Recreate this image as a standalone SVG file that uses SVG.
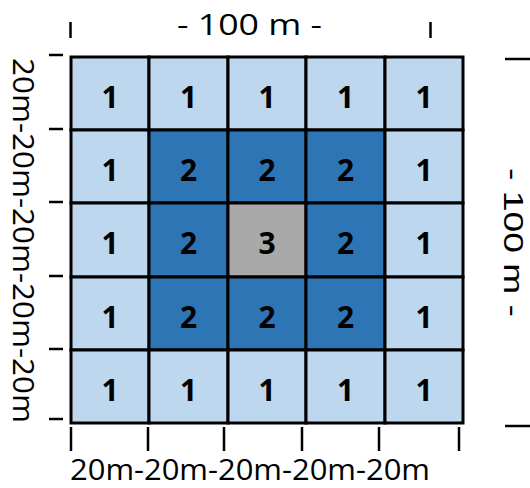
<svg xmlns="http://www.w3.org/2000/svg" width="530" height="488" viewBox="0 0 530 488">
<style>
.c1{fill:#BDD7EE}.c2{fill:#2E75B6}.c3{fill:#A9A9A9}
.cell rect{stroke:#000;stroke-width:3}
.n{font-family:"Open Sans","Liberation Sans",Arial,sans-serif;font-weight:bold;font-size:30px;text-anchor:middle;fill:#000}
.lab{font-family:"Open Sans","Liberation Sans",sans-serif;font-size:29px;fill:#000}
.tk{stroke:#000;stroke-width:2.5;fill:none}
</style>
<rect width="530" height="488" fill="#fff"/>
<g id="grid">
<g id="r1c1" class="cell"><rect class="c1" x="71" y="57" width="78" height="73"/><text class="n" x="110" y="108">1</text></g>
<g id="r1c2" class="cell"><rect class="c1" x="149" y="57" width="79" height="73"/><text class="n" x="188.5" y="108">1</text></g>
<g id="r1c3" class="cell"><rect class="c1" x="228" y="57" width="78" height="73"/><text class="n" x="267" y="108">1</text></g>
<g id="r1c4" class="cell"><rect class="c1" x="306" y="57" width="79" height="73"/><text class="n" x="345.5" y="108">1</text></g>
<g id="r1c5" class="cell"><rect class="c1" x="385" y="57" width="78" height="73"/><text class="n" x="424" y="108">1</text></g>

<g id="r2c1" class="cell"><rect class="c1" x="71" y="130" width="78" height="73"/><text class="n" x="110" y="181">1</text></g>
<g id="r2c2" class="cell"><rect class="c2" x="149" y="130" width="79" height="73"/><text class="n" x="188.5" y="181">2</text></g>
<g id="r2c3" class="cell"><rect class="c2" x="228" y="130" width="78" height="73"/><text class="n" x="267" y="181">2</text></g>
<g id="r2c4" class="cell"><rect class="c2" x="306" y="130" width="79" height="73"/><text class="n" x="345.5" y="181">2</text></g>
<g id="r2c5" class="cell"><rect class="c1" x="385" y="130" width="78" height="73"/><text class="n" x="424" y="181">1</text></g>

<g id="r3c1" class="cell"><rect class="c1" x="71" y="203" width="78" height="74"/><text class="n" x="110" y="254">1</text></g>
<g id="r3c2" class="cell"><rect class="c2" x="149" y="203" width="79" height="74"/><text class="n" x="188.5" y="254">2</text></g>
<g id="r3c3" class="cell"><rect class="c3" x="228" y="203" width="78" height="74"/><text class="n" x="267" y="254">3</text></g>
<g id="r3c4" class="cell"><rect class="c2" x="306" y="203" width="79" height="74"/><text class="n" x="345.5" y="254">2</text></g>
<g id="r3c5" class="cell"><rect class="c1" x="385" y="203" width="78" height="74"/><text class="n" x="424" y="254">1</text></g>

<g id="r4c1" class="cell"><rect class="c1" x="71" y="277" width="78" height="73"/><text class="n" x="110" y="328">1</text></g>
<g id="r4c2" class="cell"><rect class="c2" x="149" y="277" width="79" height="73"/><text class="n" x="188.5" y="328">2</text></g>
<g id="r4c3" class="cell"><rect class="c2" x="228" y="277" width="78" height="73"/><text class="n" x="267" y="328">2</text></g>
<g id="r4c4" class="cell"><rect class="c2" x="306" y="277" width="79" height="73"/><text class="n" x="345.5" y="328">2</text></g>
<g id="r4c5" class="cell"><rect class="c1" x="385" y="277" width="78" height="73"/><text class="n" x="424" y="328">1</text></g>

<g id="r5c1" class="cell"><rect class="c1" x="71" y="350" width="78" height="73"/><text class="n" x="110" y="401">1</text></g>
<g id="r5c2" class="cell"><rect class="c1" x="149" y="350" width="79" height="73"/><text class="n" x="188.5" y="401">1</text></g>
<g id="r5c3" class="cell"><rect class="c1" x="228" y="350" width="78" height="73"/><text class="n" x="267" y="401">1</text></g>
<g id="r5c4" class="cell"><rect class="c1" x="306" y="350" width="79" height="73"/><text class="n" x="345.5" y="401">1</text></g>
<g id="r5c5" class="cell"><rect class="c1" x="385" y="350" width="78" height="73"/><text class="n" x="424" y="401">1</text></g>
</g>
<g id="ticks" class="tk">
<line x1="70.5" y1="22" x2="70.5" y2="38"/>
<line x1="430.5" y1="22" x2="430.5" y2="38"/>
<line x1="49" y1="55" x2="63" y2="55"/>
<line x1="49" y1="129" x2="63" y2="129"/>
<line x1="49" y1="202" x2="63" y2="202"/>
<line x1="49" y1="276" x2="63" y2="276"/>
<line x1="49" y1="349" x2="63" y2="349"/>
<line x1="49" y1="419" x2="63" y2="419"/>
<line x1="71" y1="427" x2="71" y2="451"/>
<line x1="148" y1="427" x2="148" y2="451"/>
<line x1="224" y1="427" x2="224" y2="451"/>
<line x1="302" y1="427" x2="302" y2="451"/>
<line x1="379" y1="427" x2="379" y2="451"/>
<line x1="459" y1="427" x2="459" y2="451"/>
<line x1="505" y1="59" x2="530" y2="59"/>
<line x1="505" y1="426" x2="530" y2="426"/>
</g>
<g id="labels">
<text class="lab" x="177" y="35" textLength="145" lengthAdjust="spacingAndGlyphs">- 100 m -</text>
<text class="lab" x="70" y="480" font-size="28" textLength="360" lengthAdjust="spacingAndGlyphs">20m-20m-20m-20m-20m</text>
<text class="lab" transform="translate(13,58) rotate(90)" x="0" y="0" textLength="365" lengthAdjust="spacingAndGlyphs">20m-20m-20m-20m-20m</text>
<text transform="translate(504,168) rotate(90)" x="0" y="0" font-family="'Liberation Sans',Arial,sans-serif" font-size="27" fill="#000" textLength="149" lengthAdjust="spacingAndGlyphs">- 100 m -</text>
</g>
</svg>
